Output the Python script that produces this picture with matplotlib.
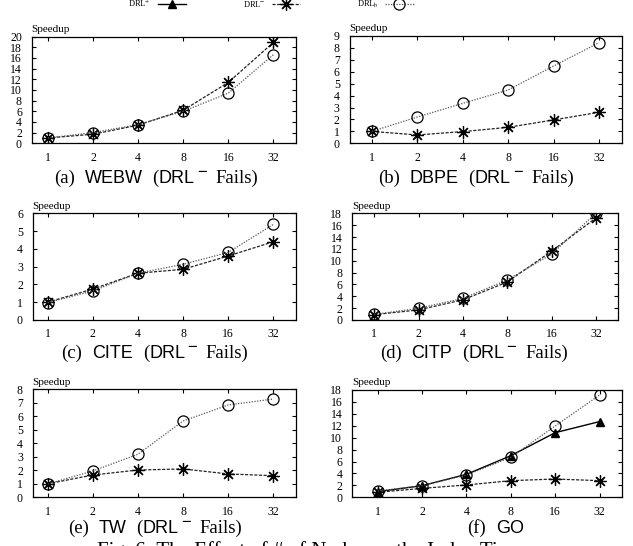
import numpy as np
import matplotlib
matplotlib.use('Agg')
import matplotlib.pyplot as plt

plt.rcParams['font.family'] = 'Liberation Serif'
plt.rcParams['mathtext.fontset'] = 'stix'

nodes = ['1', '2', '4', '8', '16', '32']

# speedup values
webw_drl = [1.0, 1.7, 3.4, 6.2, 11.4, 18.9]
webw_drlb = [1.0, 2.0, 3.5, 6.0, 9.4, 16.6]
dbpe_drl = [1.0, 0.7, 0.98, 1.34, 1.96, 2.6]
dbpe_drlb = [1.0, 2.2, 3.35, 4.47, 6.48, 8.44]
cite_drl = [1.0, 1.74, 2.63, 2.85, 3.6, 4.4]
cite_drlb = [0.98, 1.63, 2.63, 3.13, 3.8, 5.38]
citp_drl = [0.9, 1.7, 3.4, 6.4, 11.6, 17.2]
citp_drlb = [0.95, 1.97, 3.65, 6.74, 11.1, 18.0]
tw_drl = [1.0, 1.65, 2.02, 2.1, 1.73, 1.6]
tw_drlb = [0.99, 1.95, 3.19, 5.65, 6.84, 7.28]
go_drlplus = [0.95, 1.95, 3.85, 6.98, 10.84, 12.7]
go_drl = [0.84, 1.5, 2.07, 2.79, 3.07, 2.79]
go_drlb = [1.06, 1.96, 3.74, 6.7, 11.96, 17.15]

panels = [
    ('a', 'WEBW', True, None, webw_drl, webw_drlb, 20, 2),
    ('b', 'DBPE', True, None, dbpe_drl, dbpe_drlb, 9, 1),
    ('c', 'CITE', True, None, cite_drl, cite_drlb, 6, 1),
    ('d', 'CITP', True, None, citp_drl, citp_drlb, 18, 2),
    ('e', 'TW', True, None, tw_drl, tw_drlb, 8, 1),
    ('f', 'GO', False, go_drlplus, go_drl, go_drlb, 18, 2),
]

W, H = 633, 546
# axes boxes in pixels: left, right, top, bottom, xlim-left, caption centre, caption baseline
boxes = [
    (31.7, 296, 36.5, 143.3, -0.36, 156, 183),
    (349.5, 621.7, 36, 143.3, -0.49, 476, 183),
    (32.7, 296, 213.3, 320, -0.33, 155, 358),
    (352, 618, 213.3, 320, -0.50, 474, 358),
    (32.7, 296, 389.3, 497.3, -0.33, 155, 533),
    (352, 621.7, 390, 497.3, -0.58, 496, 533),
]

fig = plt.figure(figsize=(W / 100, H / 100), dpi=100)
renderer = fig.canvas.get_renderer()

star = (8, 2, 0)
style_plus = dict(color='black', lw=1.0, ls='-', marker='^', ms=6, mfc='black', mec='black')
style_drl = dict(color='#222222', lw=0.9, ls=(0, (2.5, 1.2)), marker=star, ms=9, mec='black', mew=0.9)
style_b = dict(color='#555555', lw=0.9, ls=(0, (1, 1.2)), marker='o', ms=8, mfc='none', mec='black', mew=0.9)

SERIF, SANS = 'Liberation Serif', 'Liberation Sans'


def caption(cx, base, pieces):
    # pieces: text, family, size, raise (px), gap before (px)
    texts = []
    total = 0
    for s, fam, size, dy, gap in pieces:
        t = fig.text(0, 1 - (base - dy) / H, s, family=fam, size=size, va='baseline', ha='left')
        w = t.get_window_extent(renderer).width
        texts.append((t, w, gap))
        total += w + gap
    x = cx - total / 2
    for t, w, gap in texts:
        x += gap
        t.set_x(x / W)
        x += w


x = np.arange(len(nodes))
handles = None
for (tag, name, fails, plus, drl, drlb, ymax, ystep), box in zip(panels, boxes):
    l, r, t, b, xl, ccx, cb = box
    ax = fig.add_axes([l / W, 1 - b / H, (r - l) / W, (b - t) / H])
    hs = []
    if plus is not None:
        hs.append(ax.plot(x, plus, **style_plus)[0])
    hs.append(ax.plot(x, drl, **style_drl)[0])
    hs.append(ax.plot(x, drlb, **style_b)[0])
    if plus is not None:
        handles = hs
    ax.set_xlim(xl, 5.5)
    ax.set_ylim(0, ymax)
    ax.set_yticks(np.arange(0, ymax + 0.1, ystep))
    ax.set_xticks(x)
    ax.set_xticklabels(nodes)
    ax.tick_params(direction='in', length=3, width=0.8, labelsize=8.5, top=True, right=True)
    ax.tick_params(axis='y', pad=7)
    ax.tick_params(axis='x', pad=6)
    for s in ax.spines.values():
        s.set_linewidth(0.9)
    ax.text(0, 1.025, 'Speedup', transform=ax.transAxes, ha='left', va='bottom', fontsize=8)

    pieces = [('(%s)' % tag, SERIF, 13.5, 0, 0),
              (name, SANS, 13, 0, 10)]
    if fails:
        pieces += [('(', SERIF, 13.5, 0, 10),
                   ('DRL', SANS, 13, 0, 0),
                   ('\u2212', SANS, 12, 6, 2),
                   ('Fails)', SERIF, 13.5, 0, 9)]
    caption(ccx, cb, pieces)

fig.legend(handles, ['DRL$^{+}$', 'DRL$^{-}$', 'DRL$_{\\rm b}$'], loc='center',
           bbox_to_anchor=(271 / W, 1 - 4 / H), ncol=3, frameon=False, markerfirst=False,
           fontsize=6, handlelength=3.4, columnspacing=6.8, handletextpad=0.8, borderpad=0)

fig.text(0.49, 1 - 541 / H, 'Fig. 6: The Effect of # of Nodes on the Index Time',
         ha='center', va='top', fontsize=15)

fig.savefig('out.png', dpi=100)
